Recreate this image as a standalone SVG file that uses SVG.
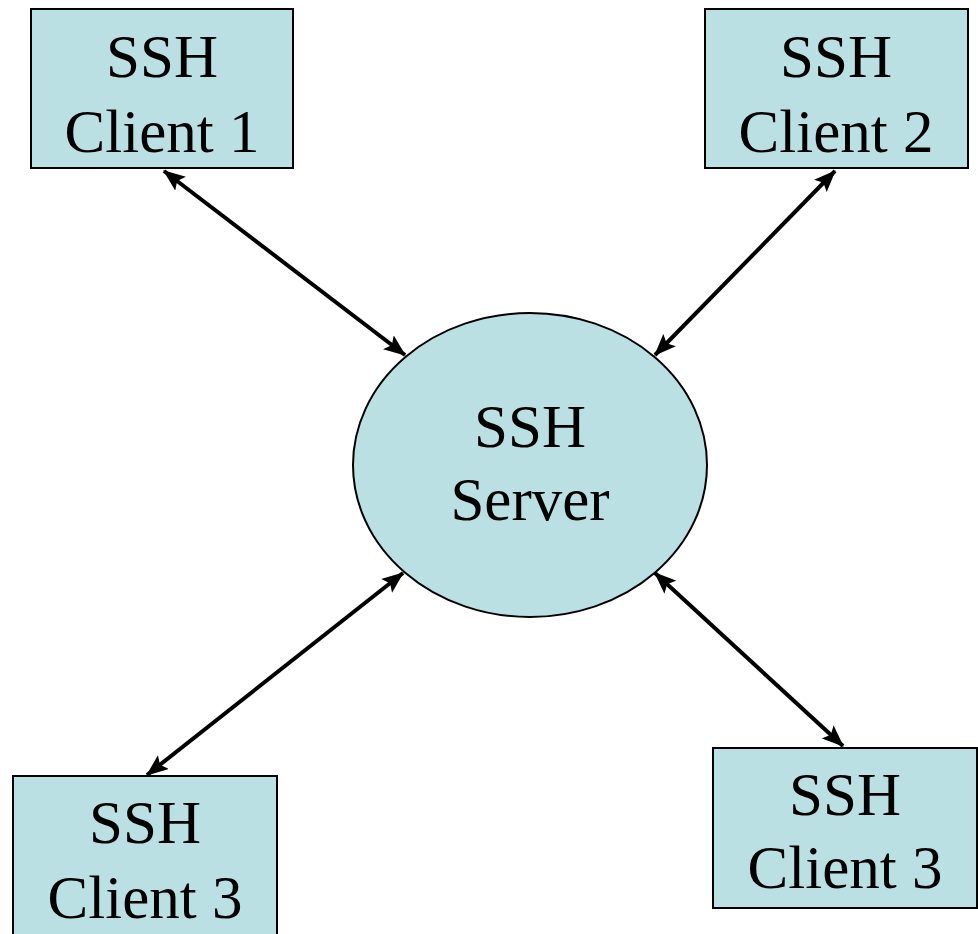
<svg xmlns="http://www.w3.org/2000/svg" width="978" height="934" viewBox="0 0 978 934">
<style>
.box{fill:#bbe0e3;stroke:#000;stroke-width:2}
text{font-family:'Liberation Serif','Times New Roman',Times,'DejaVu Serif',serif;font-size:61px;text-anchor:middle;fill:#000}
.c{stroke:#000;stroke-width:4;fill:none;marker-start:url(#ah);marker-end:url(#ah)}
</style>
<defs>
<marker id="ah" markerUnits="userSpaceOnUse" markerWidth="22" markerHeight="18" refX="19" refY="8" orient="auto-start-reverse" viewBox="0 0 20 16">
<path d="M0,0 L20,8 L0,16 L4,8 z" fill="#000"/>
</marker>
</defs>
<rect width="978" height="934" fill="#fff"/>
<g id="connectors">
<line class="c" x1="164" y1="171" x2="405" y2="355"/>
<line class="c" x1="835" y1="171" x2="655" y2="355"/>
<line class="c" x1="403" y1="573" x2="147" y2="775"/>
<line class="c" x1="655" y1="573" x2="843" y2="746"/>
</g>
<g id="server">
<ellipse class="box" cx="530" cy="465" rx="177" ry="152"/>
<text x="530" y="447" font-family="Liberation Serif, serif">SSH</text>
<text x="530" y="520" font-family="Liberation Serif, serif">Server</text>
</g>
<g id="client1">
<rect class="box" x="31" y="9" width="262" height="159"/>
<text x="162" y="77" font-family="Liberation Serif, serif">SSH</text>
<text x="162" y="152" font-family="Liberation Serif, serif">Client 1</text>
</g>
<g id="client2">
<rect class="box" x="705" y="9" width="263" height="159"/>
<text x="836" y="77" font-family="Liberation Serif, serif">SSH</text>
<text x="836" y="152" font-family="Liberation Serif, serif">Client 2</text>
</g>
<g id="client3left">
<rect class="box" x="13" y="776" width="264" height="170"/>
<text x="145" y="843" font-family="Liberation Serif, serif">SSH</text>
<text x="145" y="918" font-family="Liberation Serif, serif">Client 3</text>
</g>
<g id="client3right">
<rect class="box" x="713" y="748" width="264" height="160"/>
<text x="845" y="815" font-family="Liberation Serif, serif">SSH</text>
<text x="845" y="888" font-family="Liberation Serif, serif">Client 3</text>
</g>
</svg>
